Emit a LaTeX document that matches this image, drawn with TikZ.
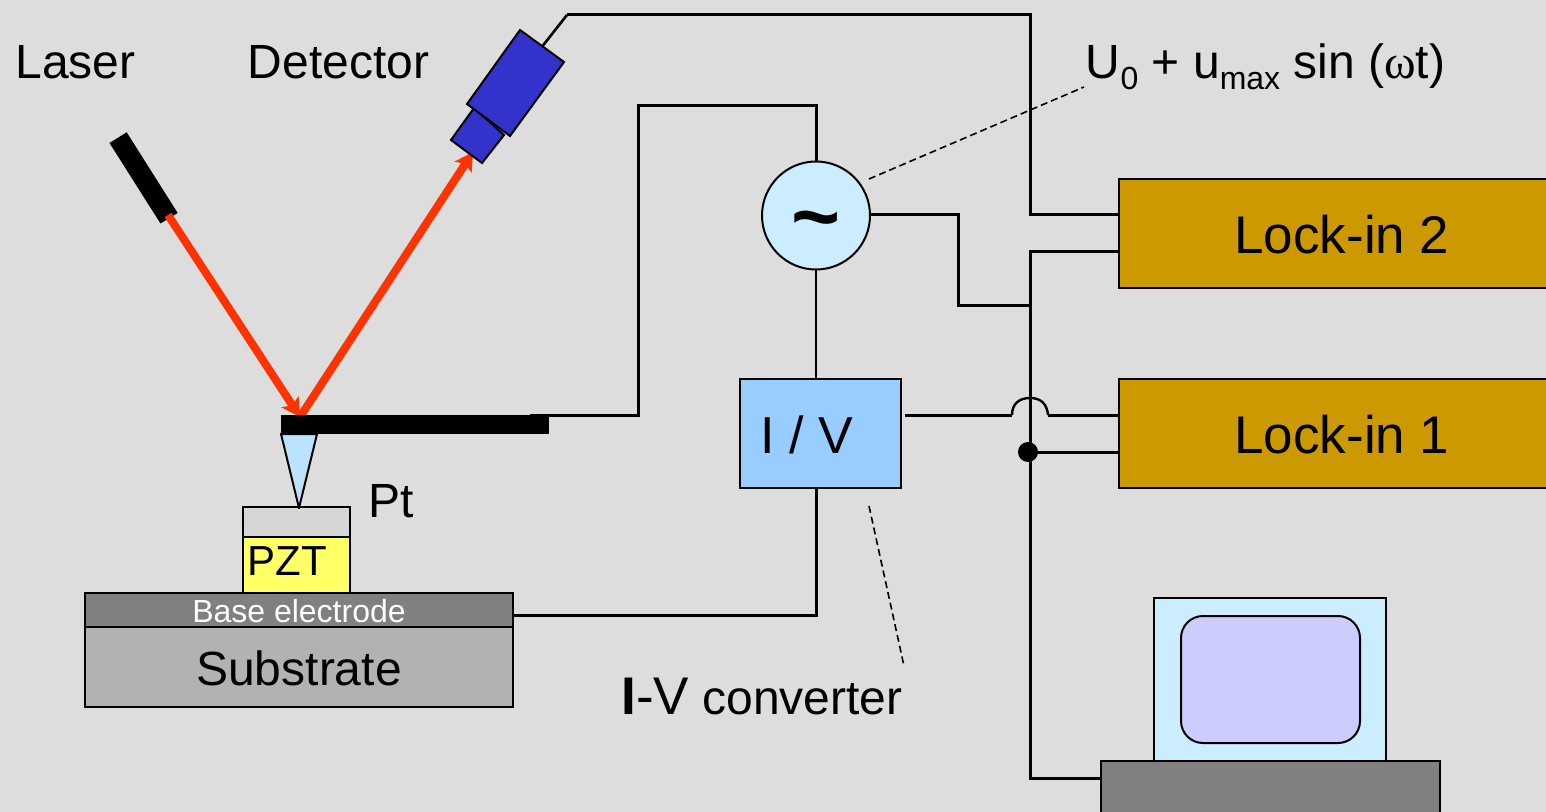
\documentclass[tikz,border=0pt]{standalone}
\usepackage{fontspec}
\setmainfont{Liberation Sans}
\newfontfamily\greekserif{Liberation Serif}
\usetikzlibrary{arrows.meta,calc}
\definecolor{bgc}{HTML}{DDDDDD}
\definecolor{gold}{HTML}{CC9900}
\definecolor{ivb}{HTML}{99CCFF}
\definecolor{src}{HTML}{CCECFF}
\definecolor{tipc}{HTML}{BBE3FF}
\definecolor{pzt}{HTML}{FFFF66}
\definecolor{ptc}{HTML}{D6D6D6}
\definecolor{basec}{HTML}{808080}
\definecolor{subc}{HTML}{B2B2B2}
\definecolor{blu}{HTML}{3333CC}
\definecolor{beam}{HTML}{FF3300}
\definecolor{screen}{HTML}{CCCCFF}
\tikzset{
  x=0.5pt,y=-0.5pt,
  wire/.style={line width=1.5pt,black,line join=miter},
  thin wire/.style={line width=1.3pt,black},
  box/.style={draw=black,line width=1pt,anchor=north west,inner sep=0pt,outer sep=0pt},
  rbeam/.style={line width=4pt,beam,-{Stealth[length=9pt,width=10pt,inset=2pt]}},
  lab/.style={inner sep=0pt,font=\fontsize{24}{28}\selectfont},
  leader/.style={line width=0.8pt,dash pattern=on 3.5pt off 2pt},
}
\newcommand{\bx}[6]{\node[box,fill=#6,minimum width=#4*0.5pt,minimum height=#5*0.5pt] (#1) at (#2,#3) {};}
\begin{document}
\begin{tikzpicture}
\fill[bgc] (0,0) rectangle (1546,812);
\useasboundingbox (0,0) rectangle (1546,812);
% coordinates
\coordinate (detwire) at (541,48);
\coordinate (d1) at (567,15);
\coordinate (d2) at (1030,15);
\coordinate (d3) at (1030,215);
\coordinate (cant1) at (530,415);
\coordinate (c2) at (638,415);
\coordinate (c3) at (638,106);
\coordinate (c4) at (816,106);
\coordinate (b1) at (958,215);
\coordinate (b2) at (958,306);
\coordinate (b3) at (1030,306);
\coordinate (bus0) at (1030,252);
\coordinate (busb) at (1030,778);
\coordinate (iv1) at (816,615);
\coordinate (br1) at (1012,415);
\coordinate (br2) at (1048,415);
\coordinate (dot) at (1028,452);
\coordinate (laserfoot) at (168,215);
\coordinate (hit) at (300,417);
\coordinate (detin) at (473,152);
% wires
\draw[thin wire] (detwire) -- (d1);
\bx{lock2}{1118.5}{179}{440}{109}{gold}
\bx{lock1}{1118.5}{379}{440}{109}{gold}
\draw[wire] (d1) -- (d2) -- (d3) -- (lock2.north west |- d3);
\draw[wire] (1118,252) -- (bus0) -- (busb) -- (1102,778);
\draw[wire] (1118,452) -- (dot);
\draw[wire] (cant1) -- (c2) -- (c3) -- (c4) -- (816,165);
\draw[wire] (870,215) -- (b1) -- (b2) -- (b3);
\draw[thin wire] (816,270) -- (816,380);
\draw[wire] (816,488) -- (iv1) -- (512,615);
\draw[wire] (905,415) -- (br1);
\draw[wire] (br2) -- (1118,415);
\draw[line width=1.2pt] (br1) .. controls (1012,404) and (1019,398) .. (1030,398) .. controls (1041,398) and (1047,404) .. (br2);
\fill (dot) circle (10);
% source and converter
\node[circle,draw=black,line width=1pt,fill=src,minimum size=54pt,inner sep=0pt] (ac) at (816,215.5) {};
\node[font=\bfseries\fontsize{42}{42}\selectfont,inner sep=0pt] (tilde) at (816,228) {\char"007E};
\bx{iv}{740}{379}{160.5}{109}{ivb}
\node[inner sep=0pt,font=\fontsize{26}{28}\selectfont,anchor=base west] (ivt) at (760,453) {I / V};
% lock-in labels
\node[inner sep=0pt,font=\fontsize{26.5}{28}\selectfont,anchor=base west] (l2) at (1234,253.5) {Lock-in 2};
\node[inner sep=0pt,font=\fontsize{26.5}{28}\selectfont,anchor=base west] (l1) at (1234,453) {Lock-in 1};
% laser and detector
\fill[black] (109.5,143) -- (126.7,132.3) -- (177.7,213) -- (160.5,223.5) -- cycle;
\draw[rbeam] (laserfoot) -- (hit);
\draw[rbeam] (hit) -- (detin);
\draw[black,line width=1pt,fill=blu,line join=miter] (451,140) -- (474,108) -- (504,135) -- (482,163) -- cycle;
\draw[black,line width=1pt,fill=blu,line join=miter] (467,104) -- (520,30) -- (564,62) -- (510,136) -- cycle;
% cantilever and tip
\path[fill=black] (281,415) rectangle (549,434);
\draw[black,line width=1pt,fill=tipc,line join=round] (281,434) -- (317,434) -- (299,508) -- cycle;
% stack
\bx{ptl}{243}{507}{107}{30}{ptc}
\draw[black,line width=1pt,line join=round] (299,506) -- (299,509);
\bx{pztl}{243}{537}{107}{56}{pzt}
\bx{subl}{85}{627}{428}{80}{subc}
\bx{basel}{85}{593}{428}{34}{basec}
\node[inner sep=0pt,font=\fontsize{21}{24}\selectfont,anchor=base west] (pztt) at (247.5,575) {PZT};
\node[inner sep=0pt,font=\fontsize{16}{18}\selectfont,text=white,anchor=base] (baset) at (299,622) {Base electrode};
\node[lab,anchor=base] (subt) at (299,685) {Substrate};
\node[lab,anchor=base west] (ptt) at (368,517) {Pt};
\node[lab,anchor=base west] (lasert) at (15,79) {Laser};
\node[lab,anchor=base west] (dett) at (247.5,79) {Detector};
\node[lab,anchor=base west] (ivc) at (621,714) {{\fontsize{26.5}{28}\selectfont\textbf{I}-V} converter};
\node[lab,anchor=base west] (ut) at (1085.5,79) {U\raisebox{-5.2pt}{\fontsize{16}{18}\selectfont 0} + u\raisebox{-5.2pt}{\fontsize{16}{18}\selectfont max} sin ({\greekserif ω}t)};
% leaders
\draw[leader] (869,179) -- (1084,87);
\draw[leader] (869,506) -- (904,666);
% computer
\bx{mon}{1154}{598}{232}{164}{src}
\draw[black,line width=1pt,fill=screen,rounded corners=11pt] (1181,616) rectangle (1360,743);
\bx{base}{1101}{761}{339}{70}{basec}
\end{tikzpicture}
\end{document}
